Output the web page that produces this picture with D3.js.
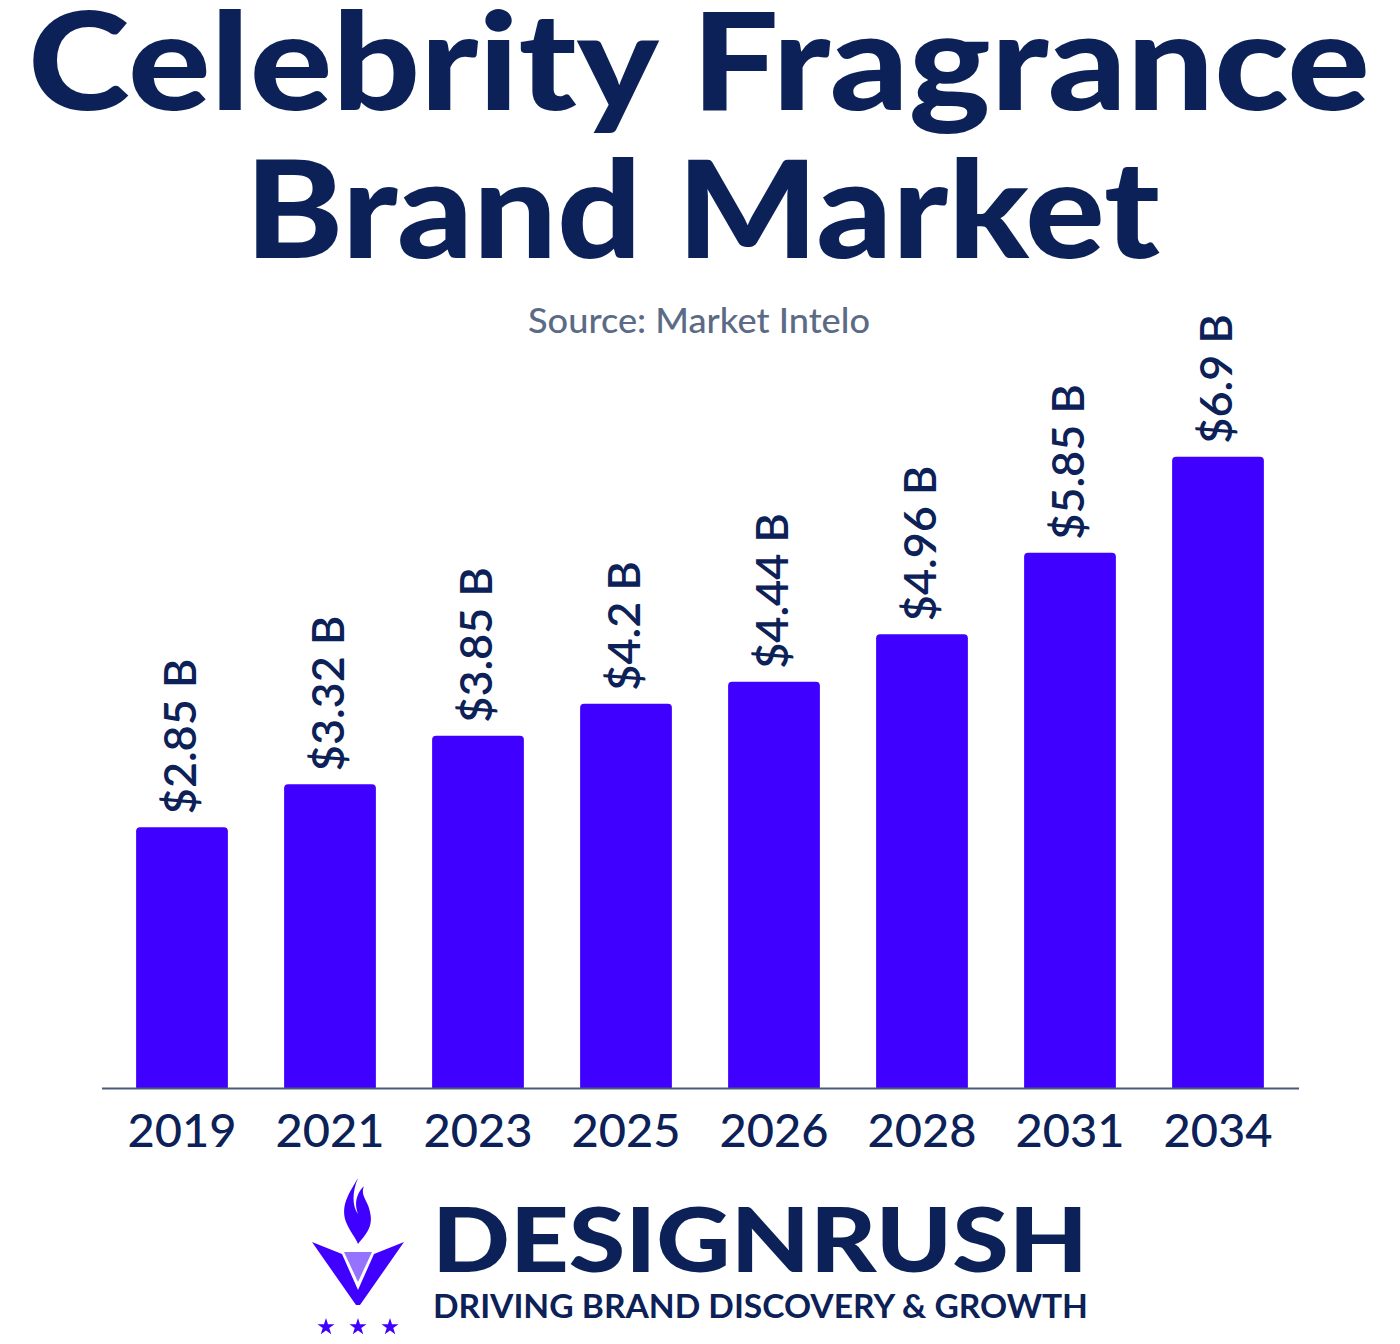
<!DOCTYPE html>
<html>
<head>
<meta charset="utf-8">
<script src="https://cdn.jsdelivr.net/npm/d3@7"></script>
<style>
  body { margin: 0; background: #fff; }
  svg { display: block; }
</style>
</head>
<body>
<div id="chart"></div>
<script>
// data
const years = ['2019', '2021', '2023', '2025', '2026', '2028', '2031', '2034']
const values = [2.85, 3.32, 3.85, 4.2, 4.44, 4.96, 5.85, 6.9]
const valueLabels = ['$2.85 B', '$3.32 B', '$3.85 B', '$4.2 B', '$4.44 B', '$4.96 B', '$5.85 B', '$6.9 B']
const titleLines = ['Celebrity Fragrance', 'Brand Market']

const W = 1400, H = 1344
const navy = '#0c2157'
const purple = '#4000ff'
const font = "'Lato', 'Open Sans', sans-serif"

const svg = d3.select('#chart').append('svg')
  .attr('width', W)
  .attr('height', H)
  .style('font-family', font)

// title
svg.append('text')
  .attr('x', 28).attr('y', 110)
  .attr('fill', navy)
  .attr('font-size', 136)
  .attr('font-weight', 900)
  .attr('textLength', 1342)
  .attr('lengthAdjust', 'spacingAndGlyphs')
  .text(titleLines[0])
svg.append('text')
  .attr('x', 245).attr('y', 258)
  .attr('fill', navy)
  .attr('font-size', 136)
  .attr('font-weight', 900)
  .attr('textLength', 915)
  .attr('lengthAdjust', 'spacingAndGlyphs')
  .text(titleLines[1])

svg.append('text')
  .attr('x', 528).attr('y', 333)
  .attr('fill', '#5b6b86')
  .attr('font-size', 34)
  .attr('font-weight', 500)
  .attr('textLength', 342)
  .attr('lengthAdjust', 'spacingAndGlyphs')
  .text('Source: Market Intelo')

// scales
const x = d3.scaleBand()
  .domain(years)
  .range([108, 1292])
  .paddingInner(0.38)
  .paddingOuter(0.19)
const baseY = 1088
const y = d3.scaleLinear()
  .domain([0, 7])
  .range([baseY, baseY - 7 * 91.5])

// bars
svg.append('g').selectAll('path')
  .data(values)
  .join('path')
  .attr('fill', purple)
  .attr('d', (d, i) => {
    const x0 = x(years[i]), w = x.bandwidth(), top = y(d), r = 4
    return `M${x0},${baseY}V${top + r}Q${x0},${top} ${x0 + r},${top}H${x0 + w - r}Q${x0 + w},${top} ${x0 + w},${top + r}V${baseY}Z`
  })

// value labels
svg.append('g').selectAll('text')
  .data(values)
  .join('text')
  .attr('transform', (d, i) => `translate(${x(years[i]) + x.bandwidth() / 2 + 14},${y(d) - 13}) rotate(-90)`)
  .attr('fill', navy)
  .attr('font-size', 45)
  .attr('font-weight', 600)
  .text((d, i) => valueLabels[i])

// axis
const axis = svg.append('g')
  .attr('transform', `translate(0,${baseY})`)
  .call(d3.axisBottom(x).tickSize(0).tickPadding(26))
axis.select('.domain')
  .attr('d', 'M102,0.5H1299')
  .attr('stroke', '#4a5a7a')
  .attr('stroke-width', 2)
axis.selectAll('text')
  .attr('fill', navy)
  .attr('font-size', 47)
  .attr('font-weight', 500)
  .attr('font-family', font)
  .attr('dy', '0.71em')

// logo
const logo = svg.append('g')
logo.append('path')
  .attr('fill', purple)
  .attr('d', 'M312,1242 L342,1254 L358,1290 L374,1254 L404,1242 L360,1305 L356,1305 Z')
logo.append('path')
  .attr('fill', purple)
  .attr('d', 'M344,1252 L372,1252 L358,1282 Z')
  .attr('opacity', 0.55)
logo.append('path')
  .attr('fill', purple)
  .attr('d', 'M358,1178 C350,1192 340,1205 346,1222 C350,1232 356,1238 358,1244 C364,1236 374,1228 370,1212 C368,1200 360,1196 364,1186 C356,1194 354,1204 358,1214 C352,1206 352,1192 358,1178 Z')
const star = d3.symbol().type(d3.symbolStar).size(90)
;[326, 358, 390].forEach(cx => {
  logo.append('path')
    .attr('d', star())
    .attr('fill', purple)
    .attr('transform', `translate(${cx},1327)`)
})
logo.append('text')
  .attr('x', 432).attr('y', 1272)
  .attr('fill', navy)
  .attr('font-size', 90)
  .attr('font-weight', 900)
  .attr('textLength', 656)
  .attr('lengthAdjust', 'spacingAndGlyphs')
  .text('DESIGNRUSH')
logo.append('text')
  .attr('x', 433).attr('y', 1318)
  .attr('fill', navy)
  .attr('font-size', 32)
  .attr('font-weight', 700)
  .attr('textLength', 655)
  .attr('lengthAdjust', 'spacingAndGlyphs')
  .text('DRIVING BRAND DISCOVERY & GROWTH')
</script>
</body>
</html>
